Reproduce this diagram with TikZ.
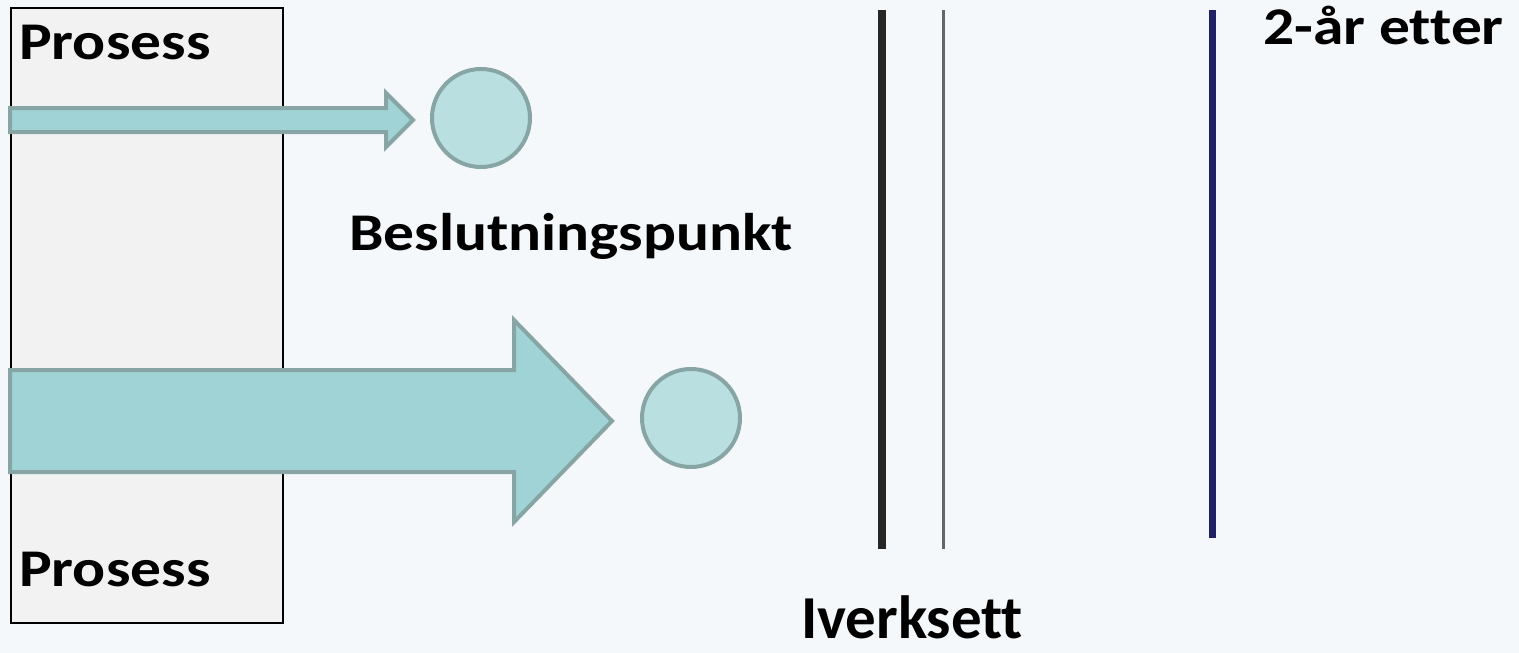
\documentclass[tikz,border=0pt]{standalone}
\usepackage{fontspec}
\setmainfont{Carlito}[FakeStretch=1.16,Ligatures=NoCommon]
\newfontfamily\tallfont{Carlito}[Ligatures=NoCommon]
\usepackage{tikz}
\usetikzlibrary{calc}

\definecolor{bgcol}{RGB}{245,248,251}
\definecolor{boxcol}{RGB}{242,242,242}
\definecolor{arrowfill}{RGB}{160,211,214}
\definecolor{arrowline}{RGB}{136,165,165}
\definecolor{dotfill}{RGB}{185,223,224}
\definecolor{navy}{RGB}{32,32,100}

\tikzset{
  lbl/.style={font=\fontsize{53}{60}\bfseries\selectfont, inner sep=0pt},
  dot/.style={circle, draw=arrowline, fill=dotfill, line width=4pt, minimum size=98pt, inner sep=0pt},
  blockarrow/.style={draw=arrowline, fill=arrowfill, line width=4pt, line join=miter}
}

\begin{document}
\begin{tikzpicture}[x=1pt,y=-1pt]
  \useasboundingbox[fill=bgcol] (0,0) rectangle (1519,653);

  % process box
  \draw[fill=boxcol, line width=1.5pt] (11,8) rectangle (283,623);
  \node[lbl, anchor=base west] (p1) at (19,59) {Prosess};
  \node[lbl, anchor=base west] (p2) at (19,586) {Prosess};

  % decision points
  \node[dot] (d1) at (481,118) {};
  \node[dot] (d2) at (691,418) {};
  \node[lbl, anchor=base] (bp) at (571,250) {Beslutningspunkt};

  % thin arrow
  \coordinate [] (A) at (10,120);
  \coordinate [] (T) at ($(d1.west)+(-17,2)$);
  \draw[blockarrow] (A) ++(0,-12) -- ($(T)+(-27,-12)$) -- ($(T)+(-27,-27)$) -- (T)
    -- ($(T)+(-27,27)$) -- ($(T)+(-27,12)$) -- ($(A)+(0,12)$) -- cycle;

  % thick arrow
  \coordinate [] (B) at (10,421);
  \coordinate [] (U) at ($(d2.west)+(-28,3)$);
  \draw[blockarrow] (B) ++(0,-51) -- ($(U)+(-98,-51)$) -- ($(U)+(-98,-101)$) -- (U)
    -- ($(U)+(-98,101)$) -- ($(U)+(-98,51)$) -- ($(B)+(0,51)$) -- cycle;

  % time lines
  \draw[line width=8pt, black!85] (882,10) -- (882,549);
  \draw[line width=3pt, black!60] (943,10) -- (943,549);
  \draw[line width=7pt, navy] (1212,10) -- (1212,538);
  \node[inner sep=0pt, font=\tallfont\fontsize{61}{68}\bfseries\selectfont, anchor=base west] (iv) at (801,638) {Iverksett};
  \node[lbl, anchor=base west] (ae) at (1263,45) {2-år etter};
\end{tikzpicture}
\end{document}
